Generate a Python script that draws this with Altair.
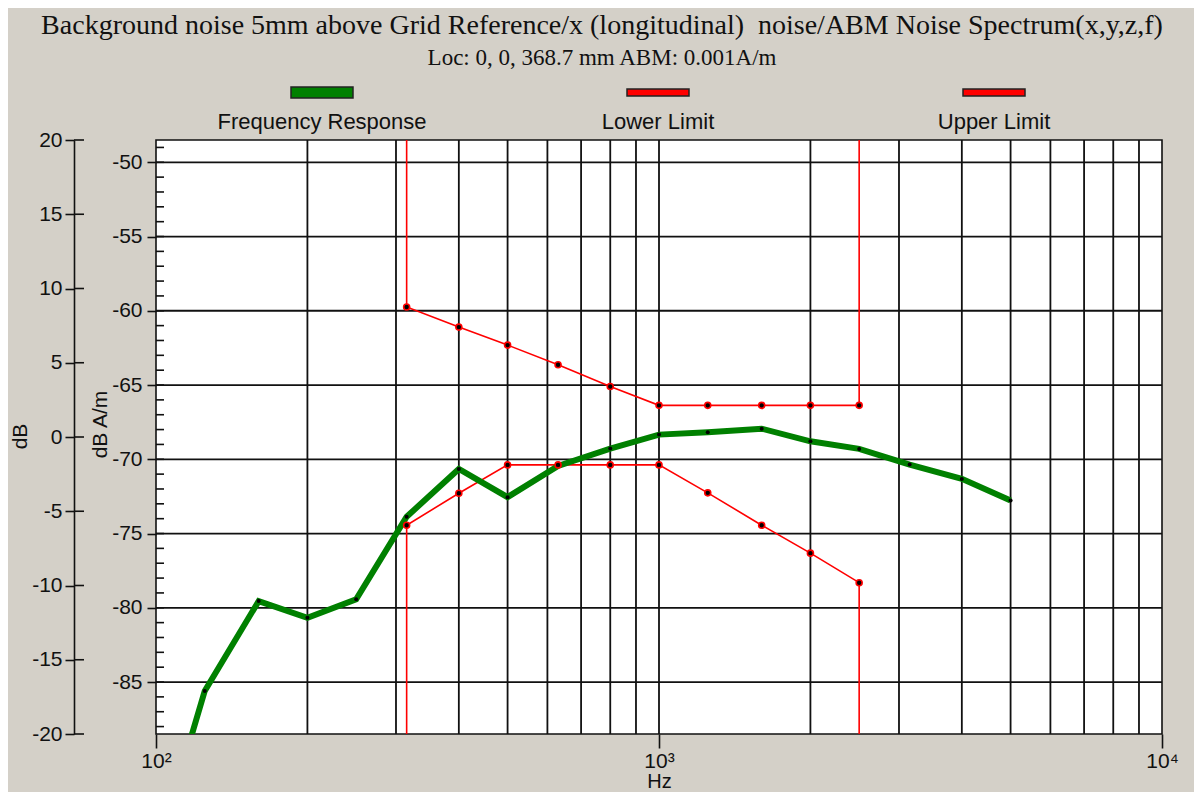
import altair as alt
import pandas as pd

# ---------------- data ----------------
fr_hz = [100, 125, 160, 200, 250, 315, 400, 500, 630, 800, 1000, 1250, 1600, 2000, 2500, 3150, 4000, 5000]
fr_db = [-96.7, -85.6, -79.55, -80.67, -79.43, -73.87, -70.65, -72.55, -70.45, -69.28, -68.34, -68.18,
         -67.94, -68.79, -69.30, -70.36, -71.32, -72.78]

lim_hz = [315, 400, 500, 630, 800, 1000, 1250, 1600, 2000, 2500]
upper_db = [-59.75, -61.10, -62.31, -63.63, -65.10, -66.37, -66.37, -66.37, -66.37, -66.37]
lower_db = [-74.44, -72.29, -70.38, -70.38, -70.38, -70.38, -72.26, -74.44, -76.32, -78.31]

series_names = ["Frequency Response", "Lower Limit", "Upper Limit"]
series_colors = ["#008000", "#FF0000", "#FF0000"]

y_domain = [-88.5, -48.5]        # dB A/m
y2_domain = [-20, 20]            # dB
x_domain = [100, 10000]          # Hz

y_major = [-85, -80, -75, -70, -65, -60, -55, -50]
y_minor = list(range(-88, -48))
y2_ticks = [-20, -15, -10, -5, 0, 5, 10, 15, 20]
x_grid = [200, 300, 400, 500, 600, 700, 800, 900, 1000, 2000, 3000, 4000, 5000, 6000, 7000, 8000, 9000]
x_labels = [100, 1000, 10000]

W, H = 1006, 594
LABEL_FONT = "Liberation Sans"
INK = "#111"

# ---------------- tables ----------------
fr_df = pd.DataFrame({"hz": fr_hz, "db": fr_db})
up_line = pd.DataFrame({"hz": [lim_hz[0]] + lim_hz + [lim_hz[-1]],
                        "db": [y_domain[1]] + upper_db + [y_domain[1]]})
up_line["i"] = range(len(up_line))
lo_line = pd.DataFrame({"hz": [lim_hz[0]] + lim_hz + [lim_hz[-1]],
                        "db": [y_domain[0]] + lower_db + [y_domain[0]]})
lo_line["i"] = range(len(lo_line))
lim_pts = pd.DataFrame({"hz": lim_hz * 2, "db": upper_db + lower_db})

xs = alt.Scale(type="log", domain=x_domain, nice=False)
ys = alt.Scale(domain=y_domain, nice=False, zero=False)

# axis holder (first layer, so its axes are the ones drawn)
axes = alt.Chart(pd.DataFrame({"f": x_labels, "v": [-50, -50, -50]})).mark_point(opacity=0).encode(
    x=alt.X("f:Q", scale=xs, axis=alt.Axis(
        values=x_labels,
        labelExpr="datum.value == 100 ? '10²' : datum.value == 1000 ? '10³' : '10⁴'",
        labelFlush=False, labelAlign="center",
        tickSize=14, tickColor=INK, tickWidth=1.6, domain=False, grid=False,
        labelFont=LABEL_FONT, labelFontSize=21, labelColor=INK, labelPadding=2,
        title="Hz", titleFont=LABEL_FONT, titleFontSize=20, titleFontWeight="normal",
        titleColor=INK, titleY=47, titleBaseline="middle")),
    y=alt.Y("v:Q", scale=ys, axis=alt.Axis(
        values=y_major, labelExpr="toString(datum.value)", tickSize=9, tickColor=INK, tickWidth=1.6,
        domain=False, grid=False, labelFont=LABEL_FONT, labelFontSize=21, labelColor=INK,
        labelPadding=5, title="dB A/m", titleFont=LABEL_FONT, titleFontSize=21,
        titleFontWeight="normal", titleColor=INK, titleAngle=270, titleAlign="center",
        titleBaseline="middle", titleX=-56, titleY=284)),
)

# gridlines
hgrid = alt.Chart(pd.DataFrame({"v": y_major})).mark_rule(color=INK, strokeWidth=1.8).encode(
    y=alt.Y("v:Q", scale=ys))
vgrid = alt.Chart(pd.DataFrame({"f": x_grid})).mark_rule(color=INK, strokeWidth=1.8).encode(
    x=alt.X("f:Q", scale=xs))
minor = alt.Chart(pd.DataFrame({"v": y_minor})).mark_rule(color=INK, strokeWidth=1.6).encode(
    y=alt.Y("v:Q", scale=ys), x=alt.value(0), x2=alt.value(8))

# series
lo = alt.Chart(lo_line).mark_line(color="#FF0000", strokeWidth=1.6, clip=True).encode(
    x=alt.X("hz:Q", scale=xs), y=alt.Y("db:Q", scale=ys), order="i:Q")
up = alt.Chart(up_line).mark_line(color="#FF0000", strokeWidth=1.6, clip=True).encode(
    x=alt.X("hz:Q", scale=xs), y=alt.Y("db:Q", scale=ys), order="i:Q")
fr = alt.Chart(fr_df).mark_line(color="#008000", strokeWidth=6, clip=True).encode(
    x=alt.X("hz:Q", scale=xs), y=alt.Y("db:Q", scale=ys))
fr_pts = alt.Chart(fr_df).mark_point(filled=True, color="black", size=16, opacity=1, clip=True).encode(
    x=alt.X("hz:Q", scale=xs), y=alt.Y("db:Q", scale=ys))
lim_p = alt.Chart(lim_pts).mark_point(filled=True, fill="black", stroke="#FF0000", strokeWidth=1.6,
                                      size=36, opacity=1).encode(
    x=alt.X("hz:Q", scale=xs), y=alt.Y("db:Q", scale=ys))

inner = alt.layer(axes, hgrid, vgrid, minor, lo, up, fr, fr_pts, lim_p)

# outer dB axis
outer = alt.Chart(pd.DataFrame({"d": y2_ticks})).mark_rule(color=INK, strokeWidth=1.6).encode(
    y=alt.Y("d:Q", scale=alt.Scale(domain=y2_domain, nice=False, zero=False), axis=alt.Axis(
        orient="left", offset=82, values=y2_ticks, labelExpr="toString(datum.value)",
        tickSize=9, tickColor=INK, tickWidth=1.6,
        domainColor=INK, domainWidth=1.6, grid=False,
        labelFont=LABEL_FONT, labelFontSize=21, labelColor=INK, labelPadding=3,
        title="dB", titleFont=LABEL_FONT, titleFontSize=21, titleFontWeight="normal",
        titleColor=INK, titleAngle=270, titleAlign="center", titleBaseline="middle",
        titleX=-54, titleY=296)),
    x=alt.value(-82), x2=alt.value(-72))

# legend (items centred above their labels)
leg_df = pd.DataFrame({"name": series_names})
lx = alt.X("name:N", scale=alt.Scale(domain=series_names, range=[-2, 1006]), axis=None)
lcolor = alt.Color("name:N", scale=alt.Scale(domain=series_names, range=series_colors), legend=None)
leg_green = alt.Chart(leg_df).transform_filter(alt.datum.name == series_names[0]).mark_rect(
    xOffset=-31, x2Offset=31, stroke="#222", strokeWidth=1.5).encode(
    x=lx, x2="name:N", y=alt.value(-53), y2=alt.value(-42), color=lcolor)
leg_red = alt.Chart(leg_df).transform_filter(alt.datum.name != series_names[0]).mark_rect(
    xOffset=-31, x2Offset=31, stroke="#222", strokeWidth=1.5).encode(
    x=lx, x2="name:N", y=alt.value(-51), y2=alt.value(-44), color=lcolor)
leg_text = alt.Chart(leg_df).mark_text(font=LABEL_FONT, fontSize=22, color=INK, baseline="middle").encode(
    x=lx, y=alt.value(-18), text="name:N")
legend = alt.layer(leg_green, leg_red, leg_text)

chart = alt.layer(inner, outer, legend).resolve_scale(x="independent", y="independent").properties(
    width=W, height=H,
    autosize=alt.AutoSizeParams(type="none"),
    padding={"left": 148, "top": 132, "right": 32, "bottom": 58},
    background="#D4D0C8",
    title=alt.TitleParams(
        text="Background noise 5mm above Grid Reference/x (longitudinal)\u00a0 noise/ABM Noise Spectrum(x,y,z,f)",
        subtitle="Loc: 0, 0, 368.7 mm ABM: 0.001A/m",
        font="Liberation Serif", fontSize=28, fontWeight="normal", color=INK,
        subtitleFont="Liberation Serif", subtitleFontSize=23, subtitleColor=INK,
        subtitlePadding=7, anchor="middle", dx=-57, offset=16),
).configure_view(fill="white", stroke=INK, strokeWidth=1.6)

chart.save("out.html", embed_options={"renderer": "svg", "actions": False})
